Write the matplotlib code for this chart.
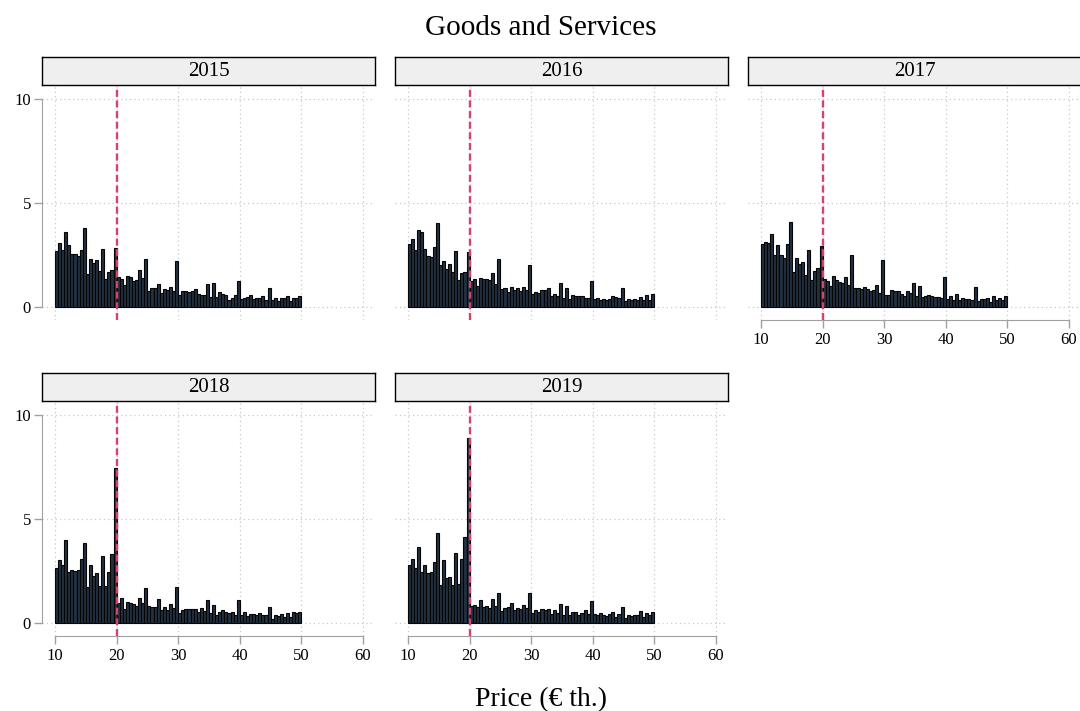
import numpy as np
import matplotlib
matplotlib.use("Agg")
import matplotlib.pyplot as plt

plt.rcParams['font.family'] = ['Liberation Serif', 'DejaVu Serif']

# bin heights (share, %) for 0.5 th. bins from 10 to 50
bin_left = np.arange(10, 50, 0.5)

h2015 = [2.69, 3.06, 2.72, 3.60, 2.96, 2.53, 2.53, 2.44, 2.72, 3.78,
         1.57, 2.29, 2.13, 2.24, 1.71, 2.79, 1.33, 1.68, 1.76, 2.82,
         1.46, 1.33, 1.06, 1.47, 1.44, 1.23, 1.28, 1.78, 1.38, 2.29,
         0.77, 0.91, 0.91, 1.09, 0.67, 0.87, 0.82, 0.96, 0.77, 2.21,
         0.59, 0.77, 0.75, 0.74, 0.77, 0.85, 0.64, 0.58, 0.58, 1.09,
         0.48, 1.14, 0.46, 0.71, 0.61, 0.56, 0.35, 0.45, 0.58, 1.25,
         0.40, 0.45, 0.48, 0.56, 0.37, 0.45, 0.42, 0.51, 0.34, 0.90,
         0.34, 0.42, 0.29, 0.42, 0.42, 0.53, 0.29, 0.42, 0.42, 0.51]

h2016 = [3.01, 3.27, 2.72, 3.69, 3.59, 2.80, 2.45, 2.42, 2.90, 4.05,
         2.00, 2.20, 1.84, 2.05, 1.67, 2.69, 1.28, 1.62, 1.70, 2.66,
         1.23, 1.33, 1.01, 1.41, 1.35, 1.36, 1.28, 1.65, 1.09, 2.29,
         0.87, 0.93, 0.71, 0.95, 0.80, 0.90, 0.77, 0.95, 0.80, 2.00,
         0.61, 0.72, 0.66, 0.80, 0.80, 0.90, 0.54, 0.63, 0.53, 1.15,
         0.45, 0.90, 0.37, 0.59, 0.51, 0.54, 0.54, 0.45, 0.45, 1.23,
         0.37, 0.45, 0.34, 0.38, 0.34, 0.38, 0.51, 0.48, 0.42, 0.93,
         0.29, 0.40, 0.34, 0.40, 0.34, 0.50, 0.34, 0.58, 0.32, 0.61]

h2017 = [3.01, 3.11, 3.08, 3.49, 2.48, 2.96, 2.48, 2.37, 3.01, 4.09,
         1.68, 2.34, 2.05, 2.15, 1.54, 2.76, 1.28, 1.71, 1.86, 2.92,
         1.33, 1.25, 0.99, 1.47, 1.28, 1.22, 1.14, 1.43, 1.06, 2.48,
         0.93, 0.93, 0.87, 0.98, 0.87, 0.75, 0.80, 1.07, 0.67, 2.27,
         0.58, 0.58, 0.80, 0.75, 0.75, 0.61, 0.53, 0.77, 0.67, 1.14,
         0.53, 1.03, 0.46, 0.54, 0.58, 0.53, 0.46, 0.46, 0.43, 1.44,
         0.38, 0.51, 0.34, 0.61, 0.34, 0.43, 0.38, 0.38, 0.35, 0.95,
         0.29, 0.38, 0.38, 0.42, 0.26, 0.51, 0.35, 0.42, 0.35, 0.51]

h2018 = [2.63, 3.04, 2.80, 3.97, 2.45, 2.56, 2.50, 2.53, 3.08, 3.83,
         1.73, 2.77, 2.24, 2.39, 1.78, 3.21, 1.76, 2.44, 3.30, 7.44,
         0.98, 1.19, 0.69, 1.03, 0.95, 0.90, 0.83, 1.19, 0.95, 1.67,
         0.83, 0.75, 0.75, 1.14, 0.63, 0.79, 0.64, 0.90, 0.71, 1.71,
         0.48, 0.61, 0.66, 0.66, 0.69, 0.69, 0.51, 0.74, 0.56, 1.09,
         0.48, 0.88, 0.38, 0.54, 0.63, 0.51, 0.48, 0.51, 0.38, 1.12,
         0.37, 0.54, 0.35, 0.42, 0.42, 0.38, 0.46, 0.37, 0.37, 0.75,
         0.19, 0.40, 0.34, 0.45, 0.30, 0.50, 0.29, 0.51, 0.46, 0.54]

h2019 = [2.80, 3.09, 2.63, 3.67, 2.47, 2.77, 2.42, 2.47, 2.95, 4.31,
         1.81, 3.04, 2.16, 2.23, 1.83, 3.35, 1.86, 3.09, 4.12, 8.88,
         0.80, 0.85, 0.75, 1.09, 0.75, 0.83, 0.71, 1.14, 0.82, 1.43,
         0.58, 0.71, 0.75, 0.96, 0.61, 0.71, 0.66, 0.85, 0.71, 1.43,
         0.48, 0.61, 0.54, 0.66, 0.64, 0.66, 0.42, 0.64, 0.48, 0.90,
         0.40, 0.80, 0.40, 0.51, 0.51, 0.40, 0.46, 0.61, 0.42, 1.04,
         0.42, 0.40, 0.46, 0.38, 0.32, 0.42, 0.51, 0.29, 0.42, 0.75,
         0.26, 0.38, 0.35, 0.40, 0.40, 0.58, 0.29, 0.46, 0.38, 0.54]

years = ["2015", "2016", "2017", "2018", "2019"]
heights = [h2015, h2016, h2017, h2018, h2019]
threshold = 20
xticks = [10, 20, 30, 40, 50, 60]
yticks = [0, 5, 10]

W, H = 1080, 711
fig = plt.figure(figsize=(W / 100, H / 100), dpi=100)

def px_axes(left, top, w, h):
    return fig.add_axes([left / W, 1 - (top + h) / H, w / W, h / H])

col_left = [42, 395, 748]
row_top = [57, 373]
panel_w = 333
strip_h = 28
plot_h = 235

# (row, col, show x axis, show y axis)
layout = [(0, 0, False, True), (0, 1, False, False), (0, 2, True, False),
          (1, 0, True, True), (1, 1, True, False)]

grid_kw = dict(color='#c8c8c8', lw=0.9, ls=(0, (1, 2.5)), zorder=0)

for year, h, (r, c, showx, showy) in zip(years, heights, layout):
    left = col_left[c]
    top = row_top[r]

    ax = px_axes(left, top + strip_h, panel_w, plot_h)
    ax.patch.set_visible(False)
    ax.set_xlim(7.89, 61.95)
    ax.set_ylim(-0.625, 10.67)

    for x in xticks:
        ax.axvline(x, **grid_kw)
    for y in yticks:
        ax.axhline(y, **grid_kw)

    ax.bar(bin_left, h, width=0.5, align='edge', color='#223040',
           edgecolor='#050505', linewidth=0.8, zorder=2)
    ax.axvline(threshold, color='#d5426c', lw=1.7, ls=(0, (3, 1.5)), zorder=3)

    for side in ['top', 'right']:
        ax.spines[side].set_visible(False)

    ax.set_xticks(xticks)
    ax.set_yticks(yticks)
    ax.tick_params(labelsize=12, colors='black')

    if showx:
        ax.spines['bottom'].set_bounds(10, 60)
        ax.spines['bottom'].set_color('#a0a0a0')
        ax.tick_params(axis='x', length=6, width=1, color='#a0a0a0', pad=3)
    else:
        ax.spines['bottom'].set_visible(False)
        ax.tick_params(axis='x', length=0, labelbottom=False)

    if showy:
        ax.spines['left'].set_bounds(0, 10)
        ax.spines['left'].set_color('#a0a0a0')
        ax.tick_params(axis='y', length=6, width=1, color='#a0a0a0', pad=2)
    else:
        ax.spines['left'].set_visible(False)
        ax.tick_params(axis='y', length=0, labelleft=False)

    # strip label, drawn on top of the panel
    sax = px_axes(left, top, panel_w, strip_h)
    sax.set_xticks([])
    sax.set_yticks([])
    sax.set_facecolor('#efefef')
    for sp in sax.spines.values():
        sp.set_linewidth(1.0)
        sp.set_color('black')
    sax.text(0.5, 0.5, year, ha='center', va='center', fontsize=15,
             transform=sax.transAxes)

fig.text(541 / W, 1 - 28 / H, "Goods and Services", ha='center', va='center',
         fontsize=21)
fig.text(541 / W, 1 - 700 / H, "Price (€ th.)", ha='center', va='center',
         fontsize=20)

fig.savefig("out.png", dpi=100)
